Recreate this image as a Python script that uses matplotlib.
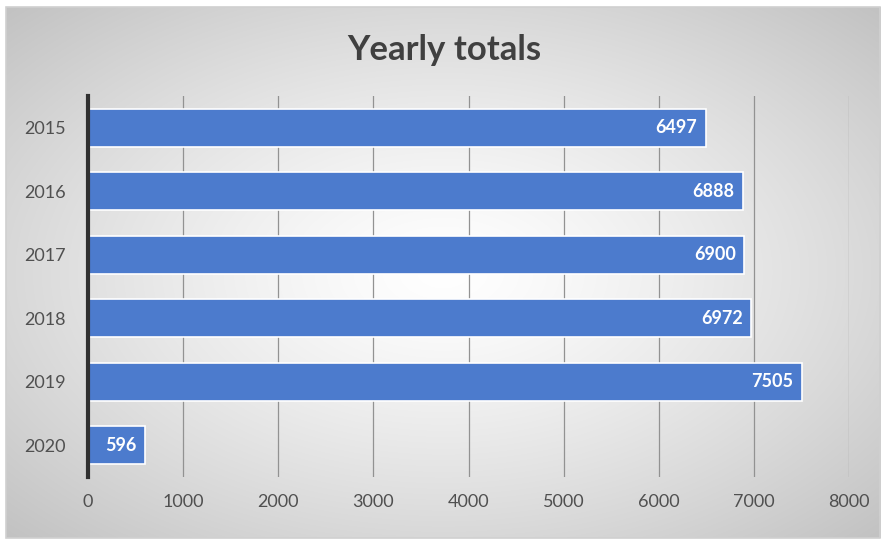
import numpy as np
import matplotlib
matplotlib.use("Agg")
import matplotlib.pyplot as plt
from matplotlib.patches import Rectangle

years = ["2015", "2016", "2017", "2018", "2019", "2020"]
totals = [6497, 6888, 6900, 6972, 7505, 596]
xticks = [0, 1000, 2000, 3000, 4000, 5000, 6000, 7000, 8000]

W, H = 888, 540
fig = plt.figure(figsize=(W / 100, H / 100), dpi=100)
fig.patch.set_facecolor("white")

# radial gradient background
bg = fig.add_axes([6 / W, 2 / H, 874 / W, 531 / H])
yy, xx = np.mgrid[-1:1:300j, -1:1:500j]
r = np.sqrt(xx ** 2 + yy ** 2) / np.sqrt(2)
val = 1.0 - 0.24 * np.clip(r, 0, 1) ** 1.3
img = np.dstack([val, val, val])
bg.imshow(img, aspect="auto", extent=[0, 1, 0, 1], interpolation="bilinear")
bg.set_xlim(0, 1); bg.set_ylim(0, 1)
bg.axis("off")
bg.add_patch(Rectangle((0, 0), 1, 1, transform=bg.transAxes, fill=False,
                       edgecolor="#d0d0d0", linewidth=1.2, clip_on=False))

ax = fig.add_axes([88 / W, (H - 477) / H, (849 - 88) / W, (477 - 96) / H])
ax.patch.set_alpha(0)
ypos = np.arange(len(years))
bars = ax.barh(ypos, totals, height=0.6, color="#4c7bcd", edgecolor="white",
               linewidth=1.2, zorder=3)
ax.set_ylim(len(years) - 0.5, -0.5)
ax.set_xlim(0, 8000)
ax.set_xticks(xticks)
ax.set_xticklabels([str(t) for t in xticks])
ax.set_yticks(ypos)
ax.set_yticklabels(years)
ax.grid(axis="x", color="#929292", linewidth=0.9, zorder=1)
ax.grid(axis="y", visible=False)
for s in ["top", "right", "bottom"]:
    ax.spines[s].set_visible(False)
ax.spines["left"].set_color("#303030")
ax.spines["left"].set_linewidth(3)
ax.spines["left"].set_zorder(4)
ax.tick_params(length=0, labelsize=13, labelcolor="#505050", pad=16)
ax.tick_params(axis="x", pad=12)
for lab in ax.get_xticklabels() + ax.get_yticklabels():
    lab.set_family("Lato")

for b, v in zip(bars, totals):
    ax.text(b.get_width() - 90, b.get_y() + b.get_height() / 2, str(v),
            ha="right", va="center", color="white", fontsize=13,
            fontweight="bold", family="Lato", zorder=5)

fig.text(0.5, 1 - 50 / H, "Yearly totals", ha="center", va="center",
         fontsize=25, fontweight="bold", color="#404040", family="Lato")

fig.savefig("out.png", dpi=100)
